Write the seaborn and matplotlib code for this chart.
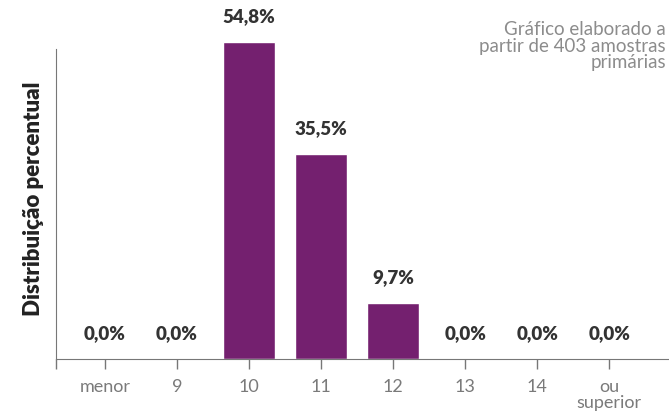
import matplotlib.pyplot as plt
import seaborn as sns
import pandas as pd

categorias = ['menor', '9', '10', '11', '12', '13', '14', 'ou\nsuperior']
percentuais = [0.0, 0.0, 54.8, 35.5, 9.7, 0.0, 0.0, 0.0]
rotulos = ['0,0%', '0,0%', '54,8%', '35,5%', '9,7%', '0,0%', '0,0%', '0,0%']
nota = 'Gráfico elaborado a\npartir de 403 amostras\nprimárias'


def main():
    sns.set_style('white')
    plt.rcParams['font.family'] = ['Lato', 'DejaVu Sans']

    df = pd.DataFrame({'cat': categorias, 'pct': percentuais})

    fig = plt.figure(figsize=(6.69, 4.14), dpi=100)
    ax = fig.add_axes([56 / 669, 54 / 414, 1 - 56 / 669, 347 / 414])

    sns.barplot(data=df, x='cat', y='pct', color='#74206f', width=0.72,
                saturation=1, ax=ax)

    for i, (v, lab) in enumerate(zip(percentuais, rotulos)):
        ax.annotate(lab, (i, v), xytext=(0, 19), textcoords='offset points',
                    ha='center', va='center', fontsize=13.5,
                    fontweight='heavy', color='#333333')

    ax.set_xlim(-0.68, 7.83)
    ax.set_ylim(0, 60)

    # spines
    for s in ['top', 'right']:
        ax.spines[s].set_visible(False)
    ax.spines['left'].set_color('#777777')
    ax.spines['bottom'].set_color('#777777')
    ax.spines['left'].set_bounds(0, 53.6)

    ax.set_xticks([-0.68] + list(range(len(categorias))))
    ax.set_xticklabels([''] + categorias)
    ax.tick_params(axis='x', bottom=True, length=7, width=1, color='#777777',
                   labelcolor='#7a7a7a', labelsize=13, pad=7)
    for t in ax.get_xticklabels():
        t.set_linespacing(0.95)
    ax.set_yticks([])

    ax.set_xlabel('')
    ax.set_ylabel('Distribuição percentual', fontsize=16, fontweight='heavy',
                  color='#222222')
    ax.yaxis.set_label_coords(-0.02, 0.464)

    fig.text(666 / 669, 1 - 21 / 414, nota, ha='right', va='top',
             fontsize=13.5, color='#8c8c8c', linespacing=0.97)

    plt.savefig('out.png', dpi=100)


if __name__ == '__main__':
    main()
